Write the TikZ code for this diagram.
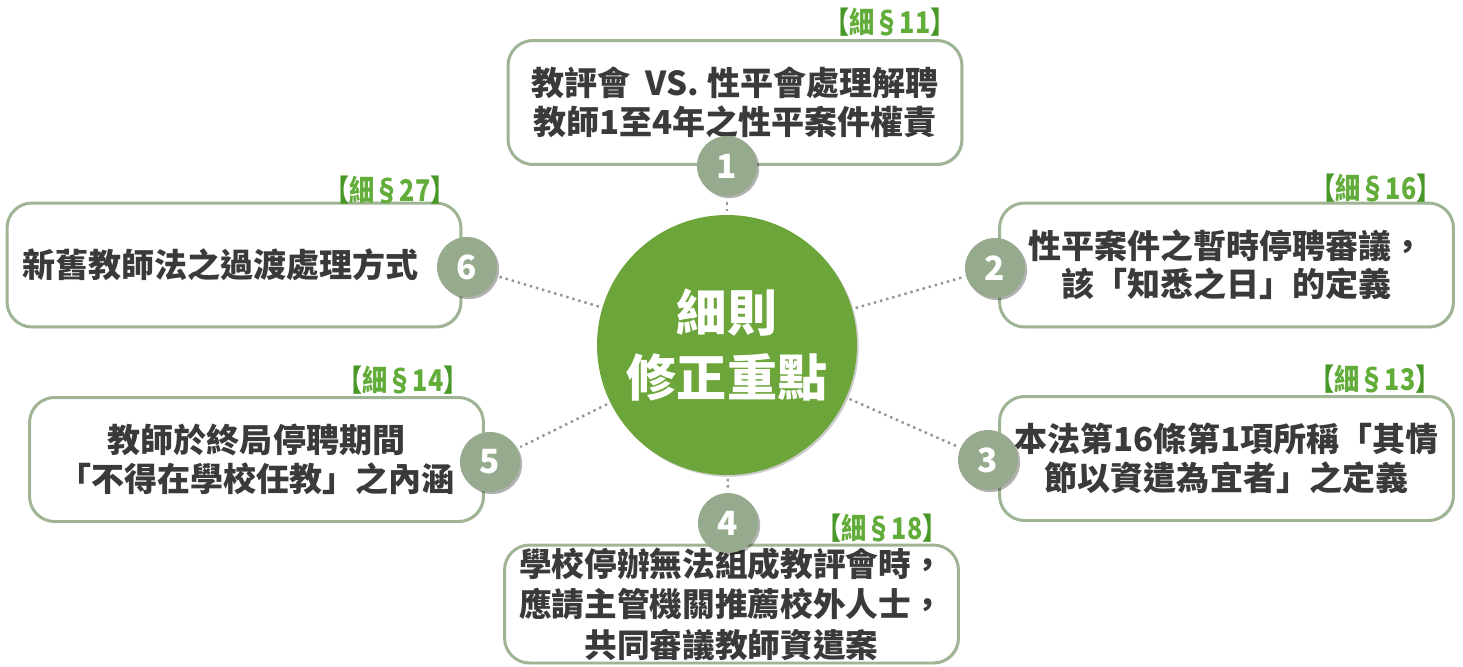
\documentclass[tikz,border=0pt]{standalone}
\usepackage{fontspec}
\setmainfont{Noto Sans CJK TC}
\newfontfamily\cjk{Noto Sans CJK TC}
\newfontfamily\cjkcond[FakeStretch=0.84]{Noto Sans CJK TC}
\usetikzlibrary{shadows}
\definecolor{boxborder}{RGB}{158,180,148}
\definecolor{numfill}{RGB}{150,171,142}
\definecolor{centergreen}{RGB}{108,165,58}
\definecolor{labelgreen}{RGB}{98,172,58}
\definecolor{bracketgreen}{RGB}{72,152,40}
\definecolor{dotgray}{RGB}{150,150,150}
\definecolor{textgray}{RGB}{58,58,58}
\newcommand{\seclabel}[1]{{\color{bracketgreen}【}細§#1{\color{bracketgreen}】}}
\tikzset{
  itembox/.style={draw=boxborder, line width=1.7pt, fill=white, rounded corners=0.5cm,
    minimum width=9.08cm, minimum height=2.48cm, align=center, inner sep=0pt,
    text=textgray, font=\cjk\bfseries\fontsize{18.8}{21.8}\selectfont,
    drop shadow={shadow xshift=0.8pt, shadow yshift=-0.8pt, fill=black, opacity=0.12}},
  numcirc/.style={circle, fill=numfill, minimum size=1.2cm, inner sep=0pt, text=white,
    font=\cjk\bfseries\fontsize{19}{19}\selectfont,
    drop shadow={shadow xshift=1.2pt, shadow yshift=-1.2pt, fill=black, opacity=0.3}},
  seclab/.style={text=labelgreen, inner sep=0pt, font=\cjkcond\bfseries\fontsize{17}{17}\selectfont},
  dotline/.style={draw=dotgray, line width=1.4pt, dash pattern=on 1.4pt off 2.2pt},
  centercirc/.style={circle, fill=centergreen, minimum size=5.2cm, inner sep=0pt, text=white,
    align=center, font=\cjk\bfseries\fontsize{28.5}{37.5}\selectfont,
    drop shadow={shadow xshift=1pt, shadow yshift=-1pt, fill=black, opacity=0.2}}
}
\begin{document}
\begin{tikzpicture}[x=0.02cm,y=-0.02cm]
\useasboundingbox (0,0) rectangle (1463,666);
% boxes
\node[itembox] (b1) at (735,102.5) {教評會~~VS. 性平會處理解聘\\教師1至4年之性平案件權責};
\node[itembox] (b2) at (1226.5,265) {性平案件之暫時停聘審議，\\該「知悉之日」的定義};
\node[itembox] (b3) at (1226.5,458.5) {本法第16條第1項所稱「其情\\節以資遣為宜者」之定義};
\node[itembox, minimum height=2.36cm, font=\cjk\bfseries\fontsize{18.6}{23}\selectfont] (b4) at (731.5,604) {學校停辦無法組成教評會時，\\應請主管機關推薦校外人士，\\共同審議教師資遣案};
\node[itembox] (b5) at (256.5,459.5) {教師於終局停聘期間\\「不得在學校任教」之內涵};
\node[itembox] (b6) at (234,265) {\hspace*{-0.55cm}新舊教師法之過渡處理方式};
% section labels
\node[seclab] (l1) at (890,22) {\seclabel{11}};
\node[seclab] (l2) at (1376,188) {\seclabel{16}};
\node[seclab] (l3) at (1375,379) {\seclabel{13}};
\node[seclab] (l4) at (882,528) {\seclabel{18}};
\node[seclab] (l5) at (403,380) {\seclabel{14}};
\node[seclab] (l6) at (390,190) {\seclabel{27}};
% number circles
\node[numcirc] (n1) at (727,166) {1};
\node[numcirc] (n2) at (995,268) {2};
\node[numcirc] (n3) at (988,460) {3};
\node[numcirc] (n4) at (728,523) {4};
\node[numcirc] (n5) at (490,462) {5};
\node[numcirc] (n6) at (467,267) {6};
% center
\node[centercirc] (c) at (727,345) {細則\\修正重點};
% dotted connectors
\foreach \n in {n1,n2,n3,n4,n5,n6}{
  \draw[dotline, shorten <=2pt, shorten >=2pt] (c) -- (\n);
}
\end{tikzpicture}
\end{document}
